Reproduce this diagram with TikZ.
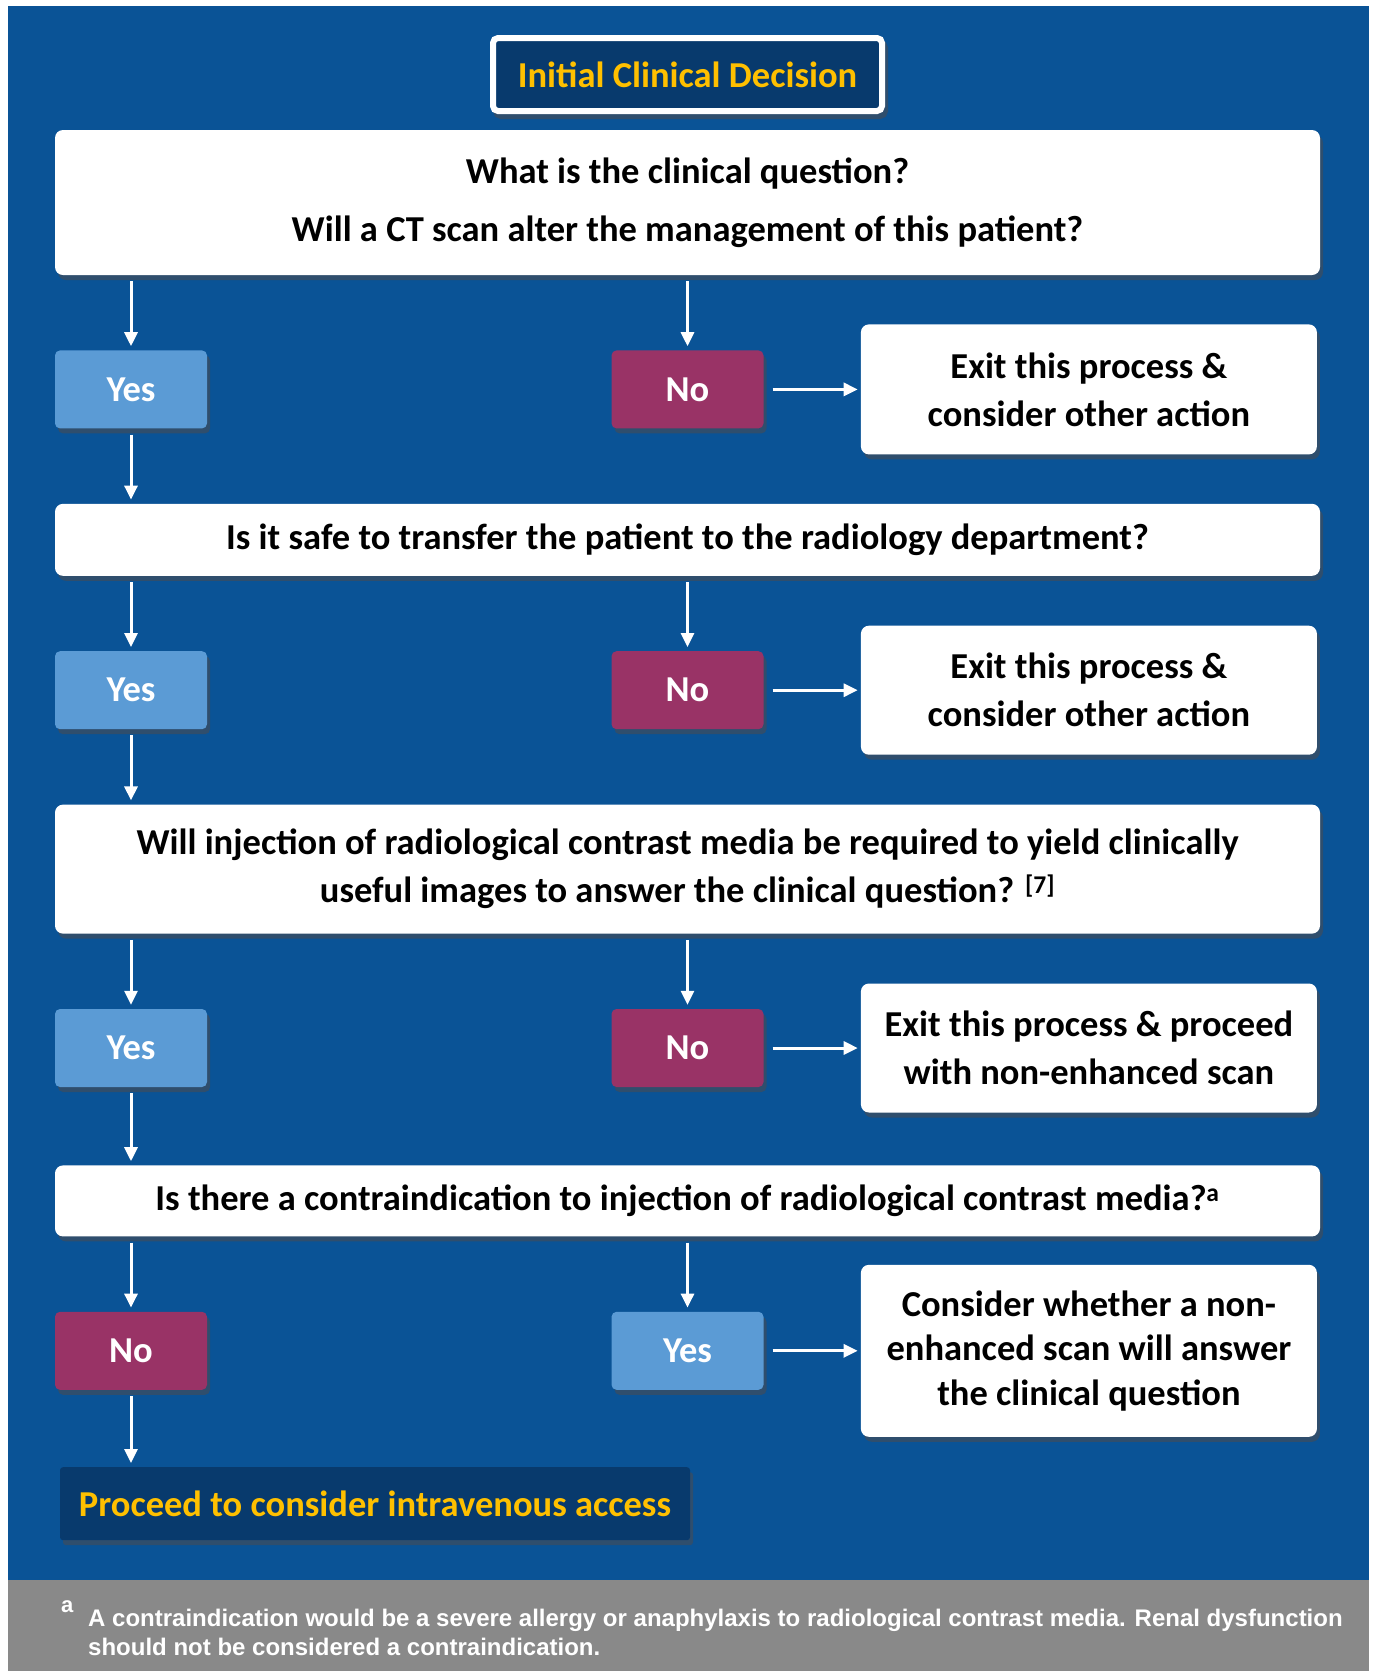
\documentclass[tikz,border=0pt]{standalone}
\usepackage{fontspec}
\setmainfont{Carlito}
\newfontfamily\notefont{Liberation Sans}
\usetikzlibrary{arrows.meta, positioning}
\definecolor{pageBlue}{HTML}{0A5396}
\definecolor{navyBox}{HTML}{083A6D}
\definecolor{yesBlue}{HTML}{5B9BD5}
\definecolor{noPurple}{HTML}{993366}
\definecolor{boxShadow}{HTML}{2F4E6D}
\definecolor{goldText}{HTML}{FFC000}
\definecolor{noteGray}{HTML}{898989}

\begin{document}
\begin{tikzpicture}[
    x=1pt, y=-1pt,
    node distance=75pt,
    shadowed/.style={preaction={fill=boxShadow, transform canvas={xshift=3pt, yshift=-5pt}}},
    base/.style={shadowed, inner sep=0pt, align=center, font=\fontsize{36.5}{48}\selectfont\bfseries},
    qbox/.style={base, fill=white, rounded corners=8pt, minimum width=1265pt},
    exitbox/.style={base, fill=white, rounded corners=8pt, minimum width=456pt},
    yesbox/.style={base, fill=yesBlue, text=white, rounded corners=5pt, minimum width=152pt, minimum height=78pt},
    nobox/.style={yesbox, fill=noPurple},
    goldbox/.style={base, fill=navyBox, text=goldText},
    arrow/.style={draw=white, line width=3pt, -{Triangle[length=14pt, width=13pt]}},
]
    % page, footnote band
    \fill[white] (0,0) rectangle (1375,1671);
    \fill[pageBlue] (8,6) rectangle (1369,1580);
    \fill[noteGray] (8,1580) rectangle (1369,1671);

    \node[goldbox, draw=white, line width=6pt, rounded corners=5pt, minimum width=389pt, minimum height=73pt,
          preaction={draw=boxShadow, line width=6pt, transform canvas={xshift=3pt, yshift=-5pt}}] (title) at (687.5,74.5) {Initial Clinical Decision};

    % question 1
    \node[qbox, minimum height=145pt] (q1) at (687.5,202.5) {What is the clinical question?\\[10pt]Will a CT scan alter the management of this patient?};
    \node[yesbox, below right=75pt and 0pt of q1.south west] (yes1) {Yes};
    \node[nobox, below=of q1] (no1) {No};
    \node[exitbox, minimum height=130pt, right=97pt of no1] (exit1) {Exit this process \&\\consider other action};

    % question 2
    \node[qbox, minimum height=72pt, below right=75pt and 0pt of yes1.south west] (q2) {Is it safe to transfer the patient to the radiology department?};
    \node[yesbox, below right=75pt and 0pt of q2.south west] (yes2) {Yes};
    \node[nobox, below=of q2] (no2) {No};
    \node[exitbox, minimum height=129pt, right=97pt of no2] (exit2) {Exit this process \&\\consider other action};

    % question 3
    \node[qbox, minimum height=129pt, below right=75pt and 0pt of yes2.south west] (q3) {Will injection of radiological contrast media be required to yield clinically\\useful images to answer the clinical question? \textsuperscript{[7]}};
    \node[yesbox, below right=75pt and 0pt of q3.south west] (yes3) {Yes};
    \node[nobox, below=of q3] (no3) {No};
    \node[exitbox, minimum height=129pt, right=97pt of no3] (exit3) {Exit this process \& proceed\\with non-enhanced scan};

    % question 4
    \node[qbox, minimum height=71pt, below right=78pt and 0pt of yes3.south west] (q4) {Is there a contraindication to injection of radiological contrast media?\textsuperscript{a}};
    \node[nobox, below right=75pt and 0pt of q4.south west] (no4) {No};
    \node[yesbox, below=of q4] (yes4) {Yes};
    \node[exitbox, minimum height=172pt, font=\fontsize{36.5}{44.5}\selectfont\bfseries, right=97pt of yes4] (exit4) {Consider whether a non-\\enhanced scan will answer\\the clinical question};

    \node[goldbox, rounded corners=3pt, minimum width=630pt, minimum height=73pt, below right=77pt and 5pt of no4.south west] (final) {Proceed to consider intravenous access};

    % connectors
    \foreach \q/\y/\n/\e in {q1/yes1/no1/exit1, q2/yes2/no2/exit2, q3/yes3/no3/exit3, q4/no4/yes4/exit4} {
        \draw[arrow, shorten <=6pt, shorten >=4pt] (\q.south -| \y) -- (\y.north);
        \draw[arrow, shorten <=6pt, shorten >=4pt] (\q.south -| \n) -- (\n.north);
        \draw[arrow, shorten <=9pt, shorten >=3pt] (\n.east) -- (\e.west);
    }
    \draw[arrow, shorten <=6pt, shorten >=4pt] (yes1.south) -- (q2.north -| yes1);
    \draw[arrow, shorten <=6pt, shorten >=4pt] (yes2.south) -- (q3.north -| yes2);
    \draw[arrow, shorten <=6pt, shorten >=4pt] (yes3.south) -- (q4.north -| yes3);
    \draw[arrow, shorten <=6pt, shorten >=4pt] (no4.south) -- (final.north -| no4);

    % footnote
    \node[text=white, font=\notefont\bfseries\fontsize{22}{29}\selectfont, anchor=base west, inner sep=0pt] (mark) at (61,1612) {a};
    \node[text=white, font=\notefont\bfseries\fontsize{24}{29}\selectfont, align=left, anchor=north west, inner sep=0pt] (note) at (88,1609) {A contraindication would be a severe allergy or anaphylaxis to radiological contrast media. Renal dysfunction\\should not be considered a contraindication.};
\end{tikzpicture}
\end{document}
